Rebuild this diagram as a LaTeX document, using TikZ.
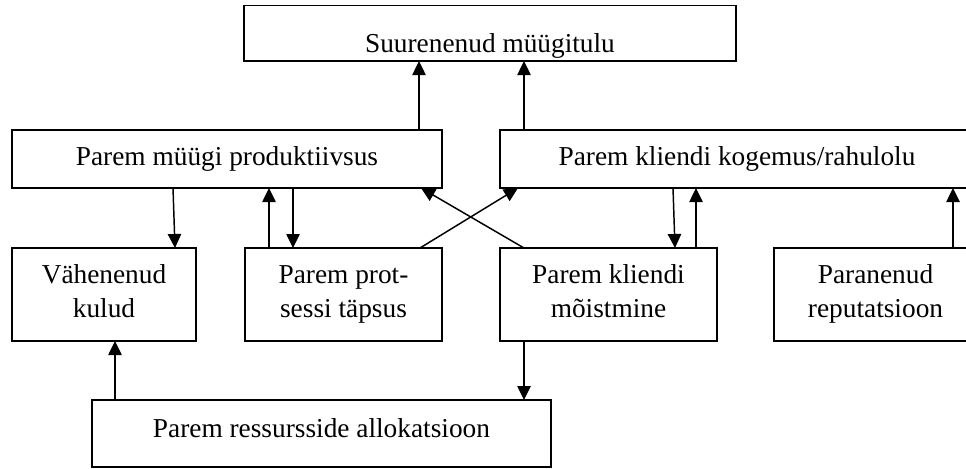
\documentclass[tikz,border=0pt]{standalone}
\usepackage{fontspec}
\setmainfont{Liberation Serif}
\usetikzlibrary{arrows.meta,calc}
\begin{document}
\begin{tikzpicture}[x=0.75pt,y=-0.75pt,
  box/.style={draw,line width=0.9pt,inner sep=0pt,outer sep=0pt,anchor=north west,align=flush center,
    font=\fontsize{20.5pt}{25.5pt}\selectfont},
  arr/.style={line width=1.1pt,-{Triangle[length=10.5pt,width=10pt]}}]
\useasboundingbox (0,0) rectangle (966,468);
\fill[white] (0,0) rectangle (966,468);

\node[box,line width=1.3pt,text width=369pt,text height=34.9pt,text depth=6.75pt] (top) at (244,5.5) {Suurenenud müügitulu};
\node[box,text width=322.5pt,text height=26.25pt,text depth=17.25pt] (prod) at (12,130) {Parem müügi produktiivsus};
\node[box,text width=355.5pt,text height=26.25pt,text depth=17.25pt] (kog) at (500,130) {Parem kliendi kogemus/rahulolu};
\node[box,text width=138pt,text height=26.25pt,text depth=43.5pt] (vk) at (12,248) {Vähenenud\\kulud};
\node[box,text width=147.75pt,text height=26.25pt,text depth=43.5pt] (prot) at (245,248) {Parem prot-\\sessi täpsus};
\node[box,text width=162.75pt,text height=26.25pt,text depth=43.5pt] (moist) at (500,248) {Parem kliendi\\mõistmine};
\node[box,text width=152.25pt,text height=26.25pt,text depth=43.5pt] (rep) at (774,248) {Paranenud\\reputatsioon};
\node[box,text width=344.25pt,text height=27.75pt,text depth=22.5pt] (alloc) at (92,400) {Parem ressursside allokatsioon};

\draw[arr] ($(prod.north west)+(407,0)$) -- ($(top.south west)+(175,0)$);
\draw[arr] ($(kog.north west)+(24,0)$) -- ($(top.south west)+(280,0)$);
\draw[arr] ($(prod.south west)+(161,0)$) -- ($(vk.north west)+(163,0)$);
\draw[arr] ($(prot.north west)+(24,0)$) -- ($(prod.south west)+(257,0)$);
\draw[arr] ($(prod.south west)+(281,0)$) -- ($(prot.north west)+(48,0)$);
\draw[arr] ($(prot.north west)+(175,0)$) -- ($(kog.south west)+(18,0)$);
\draw[arr] ($(moist.north west)+(24,0)$) -- ($(prod.south west)+(409,0)$);
\draw[arr] ($(kog.south west)+(173,0)$) -- ($(moist.north west)+(175,0)$);
\draw[arr] ($(moist.north west)+(196,0)$) -- ($(kog.south west)+(196,0)$);
\draw[arr] ($(rep.north west)+(179,0)$) -- ($(kog.south west)+(453,0)$);
\draw[arr] ($(moist.south west)+(24,0)$) -- ($(alloc.north west)+(432,0)$);
\draw[arr] ($(alloc.north west)+(23,0)$) -- ($(vk.south west)+(103,0)$);
\end{tikzpicture}
\end{document}
